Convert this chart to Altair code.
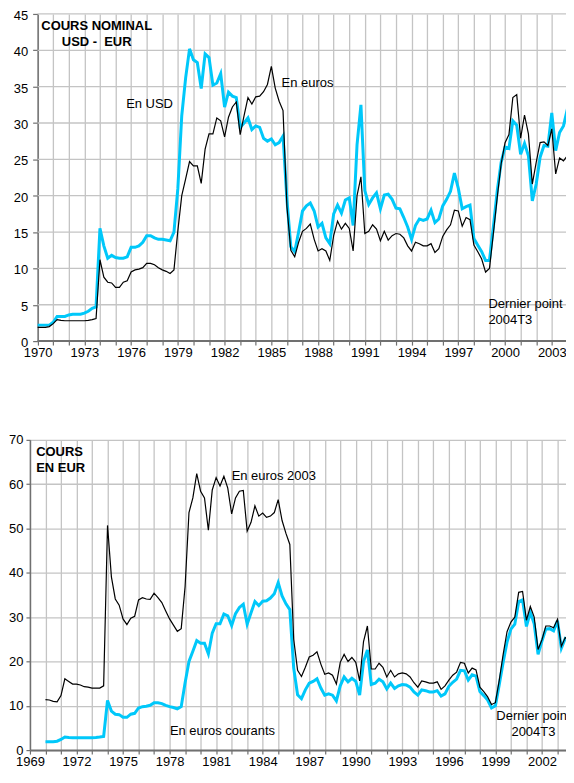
import altair as alt
import pandas as pd

FONT = "Liberation Sans"
BLUE = "#00C8FA"
GRID = "#C4C4C4"
AXIS = "#707070"

FIRST_YEAR = 1970
LAST_YEAR = 2004

# quarterly values 1970T1 .. 2004T3
usd_nominal = [
    2.2, 2.2, 2.2, 2.2,      # 1970
    2.6, 3.4, 3.4, 3.4,      # 1971
    3.6, 3.7, 3.7, 3.7,      # 1972
    3.85, 4.1, 4.5, 4.7,     # 1973
    15.5, 13.1, 11.4, 11.8,  # 1974
    11.5, 11.4, 11.4, 11.6,  # 1975
    12.9, 12.9, 13.1, 13.6,  # 1976
    14.5, 14.5, 14.2, 14.0,  # 1977
    14.0, 13.9, 13.8, 15.0,  # 1978
    21.0, 31.0, 36.2, 40.2,  # 1979
    38.7, 38.3, 34.75, 39.5, # 1980
    39.0, 35.2, 35.5, 36.8,  # 1981
    32.2, 34.25, 33.7, 33.5, # 1982
    29.4, 30.0, 30.7, 29.1,  # 1983
    29.6, 29.4, 27.9, 27.5,  # 1984
    27.8, 27.0, 27.3, 28.2,  # 1985
    19.5, 13.0, 12.3, 15.0,  # 1986
    17.9, 18.6, 19.0, 17.9,  # 1987
    15.7, 16.2, 14.2, 13.4,  # 1988
    17.5, 18.7, 17.6, 19.4,  # 1989
    19.7, 15.9, 27.0, 32.5,  # 1990
    20.7, 18.8, 19.7, 20.4,  # 1991
    18.2, 20.1, 20.2, 19.5,  # 1992
    18.3, 18.2, 17.0, 15.7,  # 1993
    14.0, 15.9, 16.8, 16.6,  # 1994
    16.8, 18.0, 16.3, 16.8,  # 1995
    18.6, 19.5, 20.6, 23.1,  # 1996
    21.0, 18.2, 18.5, 18.7,  # 1997
    14.1, 13.2, 12.3, 11.1,  # 1998
    11.1, 15.7, 20.7, 24.6,  # 1999
    26.7, 26.5, 30.3, 29.7,  # 2000
    25.7, 27.2, 25.5, 19.3,  # 2001
    21.6, 25.3, 26.9, 26.8,  # 2002
    31.4, 26.2, 28.7, 29.6,  # 2003
    31.9, 35.8, 41.5,        # 2004
]

eur_nominal = [
    1.9, 1.9, 1.9, 2.0,      # 1970
    2.4, 2.95, 2.85, 2.8,    # 1971
    2.8, 2.8, 2.8, 2.8,      # 1972
    2.8, 2.85, 2.95, 3.1,    # 1973
    11.2, 8.8, 8.1, 8.0,     # 1974
    7.4, 7.4, 8.1, 8.3,      # 1975
    9.5, 9.8, 9.9, 10.1,     # 1976
    10.7, 10.7, 10.5, 10.1,  # 1977
    9.8, 9.6, 9.3, 9.8,      # 1978
    15.2, 20.0, 22.3, 24.7,  # 1979
    24.1, 24.1, 21.7, 26.4,  # 1980
    28.5, 28.5, 30.7, 30.3,  # 1981
    28.1, 30.8, 32.2, 32.9,  # 1982
    28.4, 31.0, 33.5, 32.6,  # 1983
    33.6, 33.7, 34.3, 35.3,  # 1984
    37.8, 34.8, 33.0, 31.7,  # 1985
    18.5, 12.5, 11.6, 13.6,  # 1986
    15.1, 15.5, 16.1, 14.0,  # 1987
    12.4, 12.7, 12.4, 11.1,  # 1988
    14.5, 16.5, 15.4, 16.2,  # 1989
    15.5, 12.4, 20.0, 22.6,  # 1990
    14.8, 15.1, 16.0, 15.4,  # 1991
    13.8, 15.1, 13.9, 14.5,  # 1992
    14.8, 14.7, 14.2, 13.1,  # 1993
    12.4, 13.6, 13.4, 13.1,  # 1994
    13.1, 13.4, 12.2, 12.7,  # 1995
    14.4, 15.3, 16.0, 18.0,  # 1996
    17.9, 15.8, 17.0, 16.7,  # 1997
    13.2, 12.3, 11.3, 9.5,   # 1998
    10.0, 14.8, 19.8, 24.4,  # 1999
    27.3, 28.4, 33.5, 33.9,  # 2000
    27.9, 31.1, 28.5, 21.6,  # 2001
    24.6, 27.3, 27.4, 26.9,  # 2002
    29.2, 23.0, 25.2, 24.8,  # 2003
    25.5, 30.3, 33.5,        # 2004
]

eur_2003 = [
    11.4, 11.3, 11.0, 10.9,  # 1970
    12.3, 16.1, 15.5, 14.9,  # 1971
    14.9, 14.7, 14.3, 14.2,  # 1972
    14.0, 14.0, 14.0, 14.5,  # 1973
    50.7, 39.1, 34.1, 32.7,  # 1974
    29.6, 28.3, 29.75, 30.2, # 1975
    33.9, 34.4, 34.1, 34.0,  # 1976
    35.4, 34.4, 33.3, 31.4,  # 1977
    29.6, 28.2, 26.8, 27.4,  # 1978
    36.9, 53.6, 56.9, 62.4,  # 1979
    58.4, 56.9, 49.6, 58.7,  # 1980
    61.5, 59.6, 61.8, 59.1,  # 1981
    53.3, 56.9, 58.4, 58.6,  # 1982
    49.4, 51.4, 55.1, 52.8,  # 1983
    53.5, 52.5, 52.8, 53.6,  # 1984
    56.5, 51.8, 48.9, 46.4,  # 1985
    25.0, 18.0, 16.6, 18.7,  # 1986
    21.0, 21.4, 22.2, 19.4,  # 1987
    17.1, 17.4, 16.9, 14.9,  # 1988
    19.8, 21.6, 20.0, 20.9,  # 1989
    19.8, 15.6, 24.5, 28.0,  # 1990
    18.3, 18.3, 19.6, 18.7,  # 1991
    16.5, 18.0, 16.5, 17.2,  # 1992
    17.4, 17.2, 16.5, 15.2,  # 1993
    14.2, 15.6, 15.4, 15.1,  # 1994
    15.1, 15.4, 13.7, 14.5,  # 1995
    15.8, 16.9, 17.6, 19.8,  # 1996
    19.6, 17.4, 18.5, 18.1,  # 1997
    14.2, 13.2, 12.0, 10.3,  # 1998
    10.7, 15.8, 21.6, 26.7,  # 1999
    28.9, 30.0, 35.6, 35.8,  # 2000
    29.3, 32.4, 30.0, 22.7,  # 2001
    24.9, 28.0, 28.0, 27.6,  # 2002
    29.5, 23.4, 25.4, 24.9,  # 2003
    25.6, 30.0, 33.0,        # 2004
]

top_y_ticks = [0, 5, 10, 15, 20, 25, 30, 35, 40, 45]
bottom_y_ticks = [0, 10, 20, 30, 40, 50, 60, 70]
top_year_ticks = list(range(1970, 2005))
bottom_year_ticks = list(range(1969, 2005))

top_bold = [("COURS NOMINAL", 1973.79, 43.3), ("USD -\u00a0 EUR", 1973.79, 41.1)]
top_notes = [("En USD", 1975.68, 32.6), ("En euros", 1985.66, 35.5),
             ("Dernier point", 1998.93, 5.1), ("2004T3", 1998.93, 2.95)]
bottom_bold = [("COURS", 1969.40, 67.3), ("EN EUR", 1969.40, 63.7)]
bottom_notes = [("En euros 2003", 1982.0, 61.9), ("En euros courants", 1978.02, 4.3)]
bottom_center = [("Dernier point", 2001.45, 7.6), ("2004T3", 2001.45, 4.0)]

# ---------------------------------------------------------------
n = len(usd_nominal)
quarters = [y + q / 4 for y in range(FIRST_YEAR, LAST_YEAR + 1) for q in range(4)][:n]
df = pd.DataFrame({"t": quarters, "usd": usd_nominal, "eur": eur_nominal, "real": eur_2003})

W = 544.4
TOP_DOMAIN = [1969.507, 2004.36]
BOT_DOMAIN = [1969.0, 2004.0]

# ---------------- scales & axes ----------------
xs_top = alt.Scale(domain=TOP_DOMAIN, nice=False, zero=False)
ys_top = alt.Scale(domain=[0, 45], nice=False)
xs_bot = alt.Scale(domain=BOT_DOMAIN, nice=False, zero=False)
ys_bot = alt.Scale(domain=[0, 70], nice=False)

x_axis_top = alt.Axis(
    values=top_year_ticks, format="d",
    labelExpr="(datum.value - 1970) % 3 == 0 ? datum.label : ''",
    domain=False, grid=True, gridColor=GRID, gridWidth=1.3,
    ticks=True, tickColor=AXIS, tickSize=4, tickWidth=1.2,
    labelPadding=1, labelFlush=False, labelOverlap=False, title=None,
)
y_axis_top = alt.Axis(
    values=top_y_ticks, offset=-7.7, grid=False,
    domainColor=AXIS, domainWidth=1.5, tickColor=AXIS, tickSize=5, tickWidth=1.2,
    labelPadding=5, labelOffset=1.5, labelOverlap=False, title=None,
)
x_axis_bot = alt.Axis(
    values=bottom_year_ticks, format="d",
    labelExpr="(datum.value - 1969) % 3 == 0 ? datum.label : ''",
    domain=True, domainColor=AXIS, domainWidth=2,
    grid=True, gridColor=GRID, gridWidth=1.3,
    tickColor=AXIS, tickSize=4, tickWidth=1.2,
    labelPadding=1, labelFlush=False, labelOverlap=False, title=None,
)
y_axis_bot = alt.Axis(
    values=bottom_y_ticks, grid=True, gridColor=GRID, gridWidth=1.3,
    domainColor=AXIS, domainWidth=1.5, tickColor=AXIS, tickSize=4, tickWidth=1.2,
    labelPadding=3, labelOverlap=False, title=None,
)


def text_layer(rows, xs, ys, xa, ya, align="left", bold=False):
    d = pd.DataFrame(rows, columns=["label", "t", "v"])
    return alt.Chart(d).mark_text(
        align=align, baseline="middle", font=FONT, fontSize=13,
        fontWeight="bold" if bold else "normal", color="black", clip=True
    ).encode(x=alt.X("t:Q", scale=xs, axis=xa), y=alt.Y("v:Q", scale=ys, axis=ya), text="label:N")


# ---------------- top panel ----------------
hgrid_top = pd.DataFrame({"v": top_y_ticks[1:], "x0": 1970.0, "x1": TOP_DOMAIN[1]})
axis_top = pd.DataFrame({"v": [0], "x0": [1970.0], "x1": [TOP_DOMAIN[1]]})

top_grid = alt.Chart(hgrid_top).mark_rule(color=GRID, strokeWidth=1.3).encode(
    x=alt.X("x0:Q", scale=xs_top, axis=x_axis_top), x2="x1",
    y=alt.Y("v:Q", scale=ys_top, axis=y_axis_top))
top_axisline = alt.Chart(axis_top).mark_rule(color=AXIS, strokeWidth=2).encode(
    x=alt.X("x0:Q", scale=xs_top, axis=x_axis_top), x2="x1",
    y=alt.Y("v:Q", scale=ys_top, axis=y_axis_top))
top_usd = alt.Chart(df).mark_line(color=BLUE, strokeWidth=3, clip=True).encode(
    x=alt.X("t:Q", scale=xs_top, axis=x_axis_top), y=alt.Y("usd:Q", scale=ys_top, axis=y_axis_top))
top_eur = alt.Chart(df).mark_line(color="black", strokeWidth=1.2, clip=True).encode(
    x=alt.X("t:Q", scale=xs_top, axis=x_axis_top), y=alt.Y("eur:Q", scale=ys_top, axis=y_axis_top))

top = alt.layer(
    top_grid, top_axisline, top_usd, top_eur,
    text_layer(top_bold, xs_top, ys_top, x_axis_top, y_axis_top, align="center", bold=True),
    text_layer(top_notes, xs_top, ys_top, x_axis_top, y_axis_top),
).properties(width=W, height=328)

# ---------------- bottom panel ----------------
bot_eur = alt.Chart(df).mark_line(color=BLUE, strokeWidth=3, clip=True).encode(
    x=alt.X("t:Q", scale=xs_bot, axis=x_axis_bot), y=alt.Y("eur:Q", scale=ys_bot, axis=y_axis_bot))
bot_real = alt.Chart(df).mark_line(color="black", strokeWidth=1.2, clip=True).encode(
    x=alt.X("t:Q", scale=xs_bot, axis=x_axis_bot), y=alt.Y("real:Q", scale=ys_bot, axis=y_axis_bot))

bottom = alt.layer(
    bot_eur, bot_real,
    text_layer(bottom_bold, xs_bot, ys_bot, x_axis_bot, y_axis_bot, bold=True),
    text_layer(bottom_notes, xs_bot, ys_bot, x_axis_bot, y_axis_bot),
    text_layer(bottom_center, xs_bot, ys_bot, x_axis_bot, y_axis_bot, align="center"),
).properties(width=W, height=311)

chart = alt.vconcat(top, bottom, spacing=75).properties(
    padding={"left": 0, "top": 0, "right": -8, "bottom": 0}
).configure_view(stroke=None).configure_axis(
    labelFont=FONT, labelFontSize=13, labelColor="black"
)

chart.save("out.html", embed_options={"renderer": "svg", "actions": False})
